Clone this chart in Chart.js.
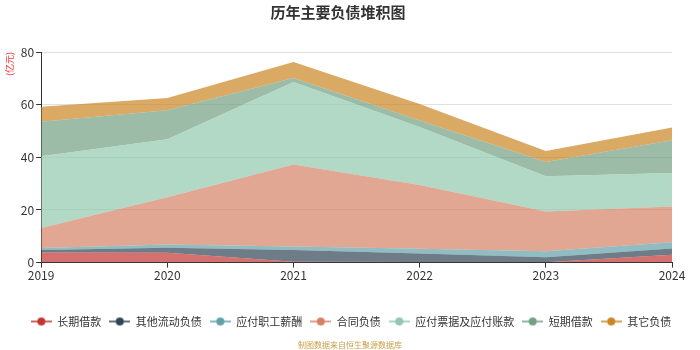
<!DOCTYPE html>
<html>
<head>
<meta charset="utf-8">
<script src="https://cdn.jsdelivr.net/npm/chart.js@4.4.1/dist/chart.umd.min.js"></script>
<style>
  html, body { margin: 0; padding: 0; background: #fff; }
  #wrap { position: relative; width: 700px; height: 350px; }
  #footer {
    position: absolute; left: 0; width: 700px; top: 339px;
    text-align: center; font: 8px 'Noto Sans CJK SC', sans-serif; color: #c9a04b;
  }
</style>
</head>
<body>
<div id="wrap">
  <canvas id="debtChart" width="700" height="350"></canvas>
  <div id="footer">制图数据来自恒生聚源数据库</div>
</div>
<script>
const years = ['2019', '2020', '2021', '2022', '2023', '2024'];

// 亿元, each series is its own layer in the stack
const longTermLoans = [3.8, 3.7, 0.3, 0.2, 0.1, 3.0];
const otherCurrentLiab = [1.0, 1.9, 4.5, 3.3, 1.9, 2.4];
const payrollPayable = [0.7, 1.3, 1.3, 1.8, 2.3, 2.3];
const contractLiab = [7.6, 17.9, 31.2, 24.2, 15.1, 13.6];
const notesAccountsPayable = [27.3, 22.1, 31.3, 22.0, 13.4, 12.7];
const shortTermLoans = [13.1, 11.0, 1.5, 2.5, 5.4, 12.5];
const otherLiab = [5.7, 4.6, 6.1, 6.2, 4.2, 4.8];

const yTicks = [0, 20, 40, 60, 80];

const seriesNames = ['长期借款', '其他流动负债', '应付职工薪酬', '合同负债', '应付票据及应付账款', '短期借款', '其它负债'];
const seriesData = [longTermLoans, otherCurrentLiab, payrollPayable, contractLiab, notesAccountsPayable, shortTermLoans, otherLiab];
const colors = ['#c23531', '#2f4554', '#61a0a8', '#d48265', '#91c7ae', '#749f83', '#ca8622'];

const FONT = "'Noto Sans CJK SC', 'Noto Sans', sans-serif";

function hexToRgba(hex, a) {
  const n = parseInt(hex.slice(1), 16);
  return `rgba(${(n >> 16) & 255}, ${(n >> 8) & 255}, ${n & 255}, ${a})`;
}

// legend marker: short line with a dot in the middle
function makeMarker(color) {
  const c = document.createElement('canvas');
  c.width = 21;
  c.height = 10;
  const g = c.getContext('2d');
  g.strokeStyle = color;
  g.lineWidth = 1.5;
  g.beginPath();
  g.moveTo(0, 5);
  g.lineTo(21, 5);
  g.stroke();
  g.fillStyle = color;
  g.beginPath();
  g.arc(10.5, 5, 4, 0, Math.PI * 2);
  g.fill();
  return c;
}

const markers = colors.map(makeMarker);

const datasets = seriesNames.map((name, i) => ({
  label: name,
  data: seriesData[i],
  borderWidth: 0,
  borderColor: colors[i],
  backgroundColor: hexToRgba(colors[i], 0.7),
  fill: i === 0 ? 'origin' : '-1',
  pointRadius: 0,
  tension: 0,
}));

// the legend sits centred on the whole canvas, not on the padded box
const shiftLegend = {
  id: 'shiftLegend',
  afterLayout(chart) {
    chart.legend.left += 13;
    chart.legend.right += 13;
  },
};

new Chart(document.getElementById('debtChart'), {
  type: 'line',
  data: { labels: years, datasets },
  plugins: [shiftLegend],
  options: {
    responsive: false,
    animation: false,
    layout: { padding: { left: 4, right: 28, top: 0, bottom: 13 } },
    plugins: {
      title: {
        display: true,
        text: '历年主要负债堆积图',
        color: '#333',
        font: { family: FONT, size: 15, weight: 'bold' },
        padding: { top: 3, bottom: 31 },
      },
      legend: {
        position: 'bottom',
        labels: {
          usePointStyle: true,
          pointStyleWidth: 21,
          boxHeight: 10,
          padding: 8,
          color: '#333',
          font: { family: FONT, size: 11 },
          generateLabels: chart => chart.data.datasets.map((ds, i) => ({
            text: ds.label,
            pointStyle: markers[i],
            fillStyle: colors[i],
            strokeStyle: colors[i],
            lineWidth: 0,
            hidden: false,
            datasetIndex: i,
            fontColor: '#333',
          })),
        },
      },
      tooltip: { enabled: false },
    },
    scales: {
      x: {
        offset: false,
        afterFit: axis => { axis.height += 24; },
        grid: { display: true, drawOnChartArea: false, drawTicks: true, tickLength: 5, tickColor: '#333' },
        border: { color: '#333' },
        ticks: { color: '#333', font: { family: FONT, size: 12 }, padding: 1, maxRotation: 0 },
      },
      y: {
        stacked: true,
        min: 0,
        max: 80,
        afterBuildTicks: axis => { axis.ticks = yTicks.map(v => ({ value: v })); },
        grid: { color: '#e0e0e0', tickLength: 5, tickColor: '#333' },
        border: { color: '#333' },
        ticks: { color: '#333', font: { family: FONT, size: 12 }, padding: 2 },
        title: {
          display: true,
          text: '(亿元)',
          align: 'end',
          color: '#e33',
          font: { family: FONT, size: 9 },
          padding: { top: 0, bottom: 4 },
        },
      },
    },
  },
});
</script>
</body>
</html>
